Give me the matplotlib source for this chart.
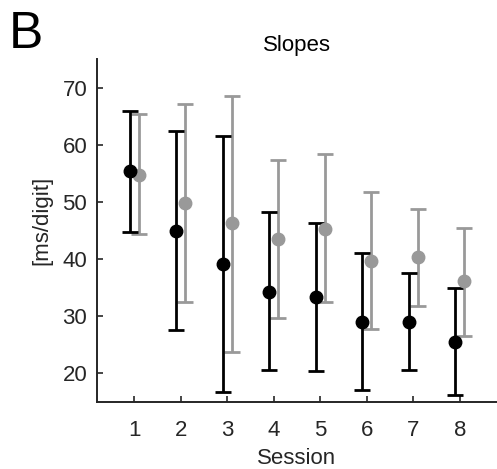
import numpy as np
import matplotlib
matplotlib.use("Agg")
import matplotlib.pyplot as plt

plt.rcParams['font.family'] = ['Liberation Sans', 'DejaVu Sans']

sessions = np.arange(1, 9)

# black series: mean, lower end, upper end of the error bar
black_mean = [55.5, 44.9, 39.2, 34.3, 33.3, 29.0, 29.0, 25.4]
black_low = [44.8, 27.5, 16.7, 20.6, 20.3, 17.0, 20.6, 16.1]
black_high = [65.9, 62.5, 61.6, 48.2, 46.4, 41.1, 37.5, 35.0]

# gray series
gray_mean = [54.7, 49.8, 46.3, 43.5, 45.2, 39.6, 40.3, 36.1]
gray_low = [44.4, 32.4, 23.7, 29.6, 32.4, 27.7, 31.8, 26.6]
gray_high = [65.4, 67.2, 68.6, 57.4, 58.4, 51.7, 48.7, 45.5]

axcol = '#262626'
graycol = '#999999'

fig = plt.figure(figsize=(4.97, 4.69), dpi=100)
ax = fig.add_axes([97 / 497, 67.3 / 469, 400 / 497, 342.4 / 469])


def draw(offset, mean, low, high, col):
    mean = np.array(mean)
    err = [mean - np.array(low), np.array(high) - mean]
    ax.errorbar(sessions + offset, mean, yerr=err, fmt='o', color=col,
                ecolor=col, elinewidth=2, capsize=6, capthick=2,
                markersize=9, clip_on=False)


draw(0.1, gray_mean, gray_low, gray_high, graycol)
draw(-0.1, black_mean, black_low, black_high, 'black')

ax.set_xlim(0.2, 8.8)
ax.set_ylim(15, 75)
ax.set_xticks(sessions)
ax.set_yticks([20, 30, 40, 50, 60, 70])
for s in ['top', 'right']:
    ax.spines[s].set_visible(False)
for s in ['left', 'bottom']:
    ax.spines[s].set_color(axcol)
    ax.spines[s].set_linewidth(1.4)
ax.tick_params(direction='in', length=4, width=1.2, colors=axcol,
               labelsize=16)
ax.tick_params(axis='y', pad=7)
ax.tick_params(axis='x', pad=13)

ax.set_xlabel('Session', fontsize=16, color=axcol, labelpad=5)
ax.set_title('Slopes', fontsize=16, pad=6)
fig.text(42 / 497, 1 - 220 / 469, '[ms/digit]', rotation=90, fontsize=16,
         color=axcol, ha='center', va='center')
fig.text(9 / 497, 1 - 10 / 469, 'B', fontsize=37, ha='left', va='top')

fig.savefig('out.png', dpi=100)
